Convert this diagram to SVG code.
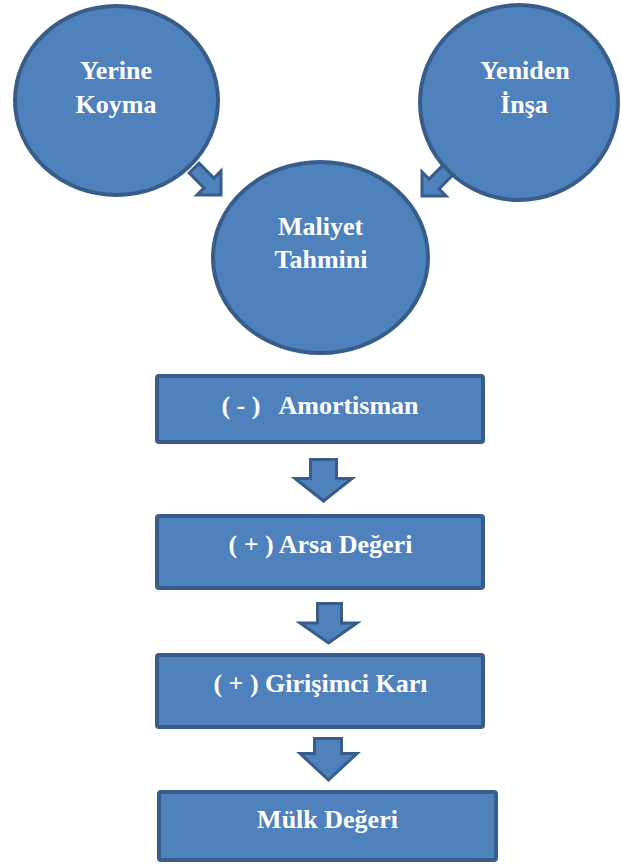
<svg xmlns="http://www.w3.org/2000/svg" width="621" height="864" viewBox="0 0 621 864">
<style>
.shape{fill:#4F81BD;stroke:#385D8A;stroke-width:4}
.arr{fill:#4F81BD;stroke:#385D8A;stroke-width:3;stroke-linejoin:miter}
.t{font-family:'Liberation Serif','Times New Roman',serif;font-weight:700;font-size:26px;fill:#FFFFFF;text-anchor:middle}
</style>
<defs>
<path id="diag" d="M-7,-38 H7 V-17 H17 L0,0 L-17,-17 H-7 Z"/>
</defs>
<rect width="621" height="864" fill="#FFFFFF"/>
<g id="connectors">
<use href="#diag" class="arr" transform="translate(221,195) rotate(-45)"/>
<use href="#diag" class="arr" transform="translate(422,196) rotate(45)"/>
<path class="arr" d="M310.5,459.5 H336.5 V478.5 H352 L323.5,501 L295,478.5 H310.5 Z"/>
<path class="arr" d="M317.5,603.5 H341.5 V623 H357 L328.5,643 L300,623 H317.5 Z"/>
<path class="arr" d="M314.5,738.5 H341.5 V753.5 H357 L328.5,780 L300,753.5 H314.5 Z"/>
</g>
<g id="yerine-koyma">
<ellipse class="shape" cx="116.5" cy="100.5" rx="101.5" ry="94.5"/>
<text class="t" x="116" y="79">Yerine</text>
<text class="t" x="116" y="113">Koyma</text>
</g>
<g id="yeniden-insa">
<ellipse class="shape" cx="519" cy="102.5" rx="99" ry="97.5"/>
<text class="t" x="525" y="79">Yeniden</text>
<text class="t" x="524" y="113">İnşa</text>
</g>
<g id="maliyet-tahmini">
<ellipse class="shape" cx="320.5" cy="257.5" rx="107.5" ry="95.5"/>
<text class="t" x="320.5" y="235">Maliyet</text>
<text class="t" x="321" y="268">Tahmini</text>
</g>
<g id="amortisman">
<rect class="shape" x="157" y="376" width="326" height="66" rx="2"/>
<text class="t" x="320" y="414" xml:space="preserve">( - )   Amortisman</text>
</g>
<g id="arsa-degeri">
<rect class="shape" x="157" y="516" width="326" height="72" rx="2"/>
<text class="t" x="320.5" y="553">( + ) Arsa Değeri</text>
</g>
<g id="girisimci-kari">
<rect class="shape" x="157" y="655" width="326" height="72" rx="2"/>
<text class="t" x="320.5" y="692">( + ) Girişimci Karı</text>
</g>
<g id="mulk-degeri">
<rect class="shape" x="159" y="792" width="337" height="68" rx="2"/>
<text class="t" x="327.5" y="828">Mülk Değeri</text>
</g>
</svg>
